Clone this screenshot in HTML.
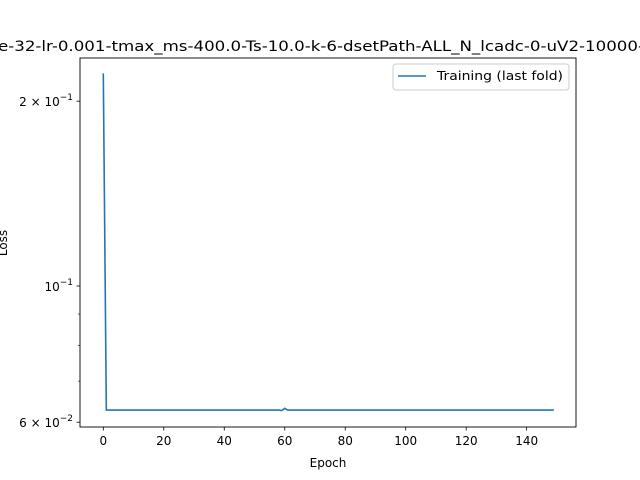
<!DOCTYPE html>
<html><head><meta charset="utf-8"><style>body{margin:0;background:#fff}svg{display:block;font-family:"DejaVu Sans","Liberation Sans",sans-serif}</style></head>
<body>
<svg id="chart" width="640" height="480" xmlns="http://www.w3.org/2000/svg">
<text x="-2" y="51" font-size="14" textLength="646" lengthAdjust="spacingAndGlyphs">e-32-lr-0.001-tmax_ms-400.0-Ts-10.0-k-6-dsetPath-ALL_N_lcadc-0-uV2-10000-</text>
<rect x="80" y="58" width="496" height="369" fill="none" stroke="#000" stroke-width="0.9"/>
<g id="xt"></g>
<g id="yt"></g>
<path id="line" fill="none" stroke="#1f77b4" stroke-width="1.6"/>
<text x="328" y="467" font-size="12" text-anchor="middle">Epoch</text>
<text transform="translate(7,243) rotate(-90)" font-size="12" text-anchor="middle">Loss</text>
<g>
<rect x="393" y="64" width="176" height="26" rx="3" fill="#fff" stroke="#ccc"/>
<line x1="398" y1="76" x2="426" y2="76" stroke="#1f77b4" stroke-width="1.6"/>
<text x="437" y="80" font-size="12" textLength="126" lengthAdjust="spacingAndGlyphs">Training (last fold)</text>
</g>
</svg>
<script>
const xTicks=[0,20,40,60,80,100,120,140];
const yMajor=[0.2,0.1,0.06];
const yMajorLabels=[["2 \u00d7 10","\u22121"],["10","\u22121"],["6 \u00d7 10","\u22122"]];
const yMinor=[0.09,0.08,0.07];
const lossFirst=[0.222];
const lossPlateau=0.0628;
const lossBumpEpochs=[59,60];
const lossBumpValues=[0.0627,0.0632];
const nEpochs=150;
const loss=[];
for(let i=0;i<nEpochs;i++){let v=i<lossFirst.length?lossFirst[i]:lossPlateau;const k=lossBumpEpochs.indexOf(i);if(k>=0)v=lossBumpValues[k];loss.push(v);}
const X=v=>103.3+v*3.024;
const Y=v=>286-(Math.log10(v)+1)*614;
const ns="http://www.w3.org/2000/svg";
function mk(t,a,p){const e=document.createElementNS(ns,t);for(const k in a)e.setAttribute(k,a[k]);p.appendChild(e);return e;}
const xt=document.getElementById('xt'),yt=document.getElementById('yt');
xTicks.forEach(v=>{
const l=mk('line',{x1:X(v),x2:X(v),y1:427,y2:430.5,stroke:'#000','stroke-width':0.8},xt);


const t=mk('text',{x:X(v),y:445,'font-size':12,'text-anchor':'middle'},xt);t.textContent=v;


});
yMajor.forEach((v,i)=>{
const l=mk('line',{x1:76.5,x2:80,y1:Y(v),y2:Y(v),stroke:'#000','stroke-width':0.8},yt);


const t=mk('text',{x:73,y:Y(v)+5,'font-size':12,'text-anchor':'end'},yt);


const a=mk('tspan',{},t);a.textContent=yMajorLabels[i][0];
const b=mk('tspan',{dy:-6,'font-size':9},t);b.textContent=yMajorLabels[i][1];
});
yMinor.forEach(v=>{
const l=mk('line',{x1:78,x2:80,y1:Y(v),y2:Y(v),stroke:'#000','stroke-width':0.6},yt);


});
document.getElementById('line').setAttribute('d',loss.map((v,i)=>(i?'L':'M')+X(i).toFixed(2)+','+Y(v).toFixed(2)).join(''));
</script>
</body></html>
